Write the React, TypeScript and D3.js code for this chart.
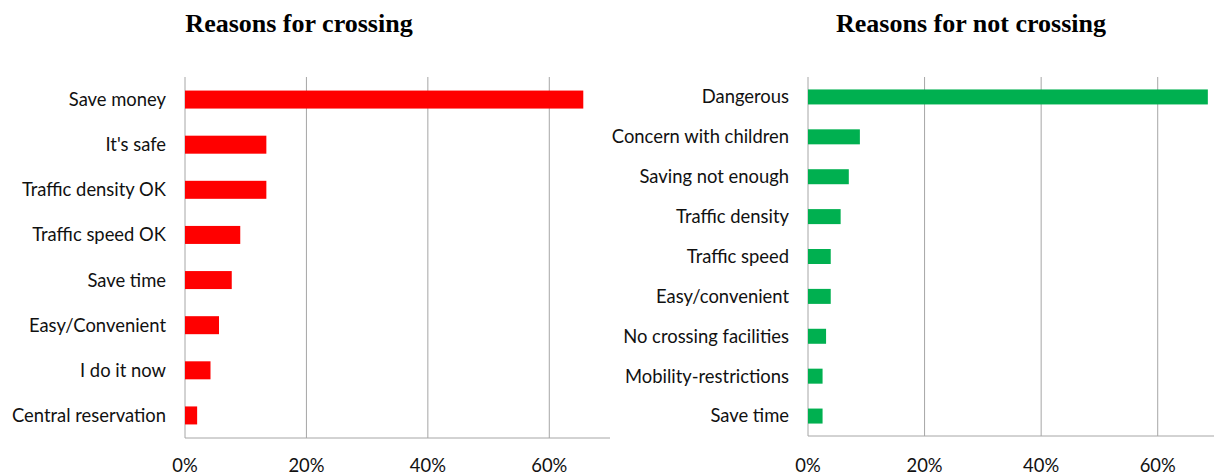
import React from "react";
import * as d3 from "d3";

const crossCategories = [
  "Save money",
  "It's safe",
  "Traffic density OK",
  "Traffic speed OK",
  "Save time",
  "Easy/Convenient",
  "I do it now",
  "Central reservation",
];
const crossValues = [0.656, 0.134, 0.134, 0.091, 0.077, 0.056, 0.042, 0.02];

const notCrossCategories = [
  "Dangerous",
  "Concern with children",
  "Saving not enough",
  "Traffic density",
  "Traffic speed",
  "Easy/convenient",
  "No crossing facilities",
  "Mobility-restrictions",
  "Save time",
];
const notCrossValues = [0.686, 0.089, 0.07, 0.056, 0.039, 0.039, 0.031, 0.025, 0.025];

const xTicks = [0, 0.2, 0.4, 0.6];

const GRID = "#a6a6a6";
const LABEL_FONT = "Lato, 'Open Sans', sans-serif";

type PanelProps = {
  title: string;
  titleX: number;
  categories: string[];
  values: number[];
  x0: number;
  x1: number;
  y0: number;
  y1: number;
  color: string;
  barH: number;
};

function Panel({ title, titleX, categories, values, x0, x1, y0, y1, color, barH }: PanelProps) {
  const x = d3.scaleLinear().domain([0, 0.7]).range([x0, x1]);
  const y = d3.scaleBand<string>().domain(categories).range([y0, y1]);
  const fmt = d3.format(".0%");
  return (
    <g>
      <text
        x={titleX}
        y={32}
        textAnchor="middle"
        fontFamily="'Liberation Serif', 'Times New Roman', serif"
        fontWeight="bold"
        fontSize={26}
        fill="#000"
      >
        {title}
      </text>
      {xTicks.map((t) => (
        <line key={t} x1={x(t)} x2={x(t)} y1={y0} y2={y1} stroke={GRID} strokeWidth={1} />
      ))}
      <line x1={x0} x2={x1} y1={y1} y2={y1} stroke={GRID} strokeWidth={1} />
      {categories.map((c, i) => {
        const cy = (y(c) as number) + y.bandwidth() / 2;
        return (
          <g key={c}>
            <rect
              x={x(0)}
              y={cy - barH / 2}
              width={x(values[i]) - x(0)}
              height={barH}
              fill={color}
            />
            <text
              x={x0 - 19}
              y={cy}
              dy="0.35em"
              textAnchor="end"
              fontFamily={LABEL_FONT}
              fontSize={18.4}
              fill="#111"
            >
              {c}
            </text>
          </g>
        );
      })}
      {xTicks.map((t) => (
        <text
          key={"l" + t}
          x={x(t)}
          y={466}
          dy="0.35em"
          textAnchor="middle"
          fontFamily={LABEL_FONT}
          fontSize={18.4}
          fill="#111"
        >
          {fmt(t)}
        </text>
      ))}
    </g>
  );
}

export default function App() {
  return (
    <svg
      width={1214}
      height={476}
      style={{ position: "absolute", left: 0, top: 0, background: "#fff" }}
    >
      <Panel
        title="Reasons for crossing"
        titleX={299}
        categories={crossCategories}
        values={crossValues}
        x0={185}
        x1={610}
        y0={77}
        y1={438}
        color="#ff0000"
        barH={18}
      />
      <Panel
        title="Reasons for not crossing"
        titleX={971}
        categories={notCrossCategories}
        values={notCrossValues}
        x0={808}
        x1={1216}
        y0={77}
        y1={436}
        color="#00b050"
        barH={15}
      />
    </svg>
  );
}
